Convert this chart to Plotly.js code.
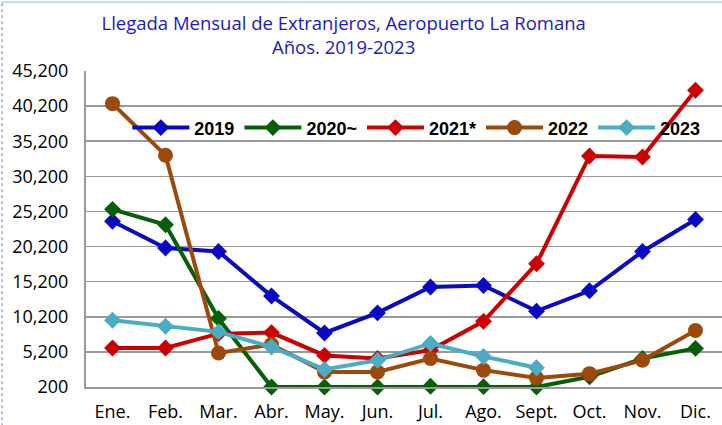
<!DOCTYPE html>
<html>
<head>
<meta charset="utf-8">
<script src="https://cdn.plot.ly/plotly-3.0.1.min.js"></script>
<style>
  html, body { margin: 0; padding: 0; background: #fff; }
  #chart { width: 722px; height: 425px; }
</style>
</head>
<body>
<div id="chart"></div>
<script>
var meses = ["Ene.", "Feb.", "Mar.", "Abr.", "May.", "Jun.", "Jul.", "Ago.", "Sept.", "Oct.", "Nov.", "Dic."]

var y2019 = [23800, 20000, 19500, 13150, 7900, 10750, 14450, 14650, 11000, 13900, 19500, 24050]
var y2020 = [25500, 23300, 9950, 200, 200, 200, 300, 250, 200, 1650, 4250, 5700]
var y2021 = [5750, 5750, 7800, 7950, 4700, 4250, 5450, 9550, 17750, 33100, 32950, 42450]
var y2022 = [40550, 33200, 5050, 6250, 2350, 2350, 4250, 2600, 1500, 2100, 4000, 8250]
var y2023 = [9700, 8850, 8050, 5900, 2700, 4000, 6400, 4550, 2950]

var series = [
    {name: "2019", y: y2019, color: "#0a0ac4", symbol: "diamond", size: 13},
    {name: "2020~", y: y2020, color: "#076007", symbol: "diamond", size: 13},
    {name: "2021*", y: y2021, color: "#cc0000", symbol: "diamond", size: 13},
    {name: "2022", y: y2022, color: "#9c4a0c", symbol: "circle", size: 15},
    {name: "2023", y: y2023, color: "#4bacc6", symbol: "diamond", size: 13}
]

var traces = series.map(function(s){
    return {
        x: meses.slice(0, s.y.length),
        y: s.y,
        name: s.name,
        type: "scatter",
        mode: "lines+markers",
        line: {color: s.color, width: 4},
        marker: {color: s.color, symbol: s.symbol, size: s.size},
        cliponaxis: false
    }
})

var layout = {
    width: 722,
    height: 425,
    margin: {l: 86, r: 0, t: 71, b: 38},
    paper_bgcolor: "#fff",
    plot_bgcolor: "#fff",
    font: {family: "Open Sans, sans-serif", color: "#000"},
    title: {
        text: "Llegada Mensual de Extranjeros, Aeropuerto La Romana<br>Años. 2019-2023",
        font: {size: 18.5, color: "#1a1acc", family: "Open Sans, sans-serif"},
        x: 0.476, xref: "container", xanchor: "center",
        y: 0.93, yref: "container", yanchor: "middle"
    },
    xaxis: {
        type: "category",
        categoryarray: meses,
        range: [-0.5, 11.5],
        showgrid: false,
        showline: true,
        linecolor: "#999",
        linewidth: 2,
        ticks: "",
        ticklabelstandoff: 7,
        tickfont: {size: 18},
        fixedrange: true
    },
    yaxis: {
        range: [200, 45200],
        tick0: 200,
        dtick: 5000,
        tickformat: ",d",
        showgrid: true,
        gridcolor: "#999",
        gridwidth: 1.5,
        zeroline: false,
        showline: true,
        linecolor: "#999",
        linewidth: 2,
        ticks: "",
        ticklabelstandoff: 12,
        tickfont: {size: 18},
        automargin: false
    },
    legend: {
        orientation: "h",
        x: 0.065, xanchor: "left",
        y: 0.82, yanchor: "middle",
        bgcolor: "rgba(0,0,0,0)",
        font: {size: 18, family: "Liberation Sans, sans-serif", weight: "bold", color: "#000"},
        itemwidth: 57,
        traceorder: "normal"
    },
    showlegend: true,
    shapes: [
        {type: "line", xref: "paper", yref: "paper", x0: -0.132, x1: 1.0, y0: 1.218, y1: 1.218,
         line: {color: "#8eb4e3", width: 1}},
        {type: "line", xref: "paper", yref: "paper", x0: -0.132, x1: -0.132, y0: -0.2, y1: 1.218,
         line: {color: "#6b7fb3", width: 1, dash: "dot"}}
    ]
}

Plotly.newPlot("chart", traces, layout, {displayModeBar: false, staticPlot: true})
</script>
</body>
</html>
